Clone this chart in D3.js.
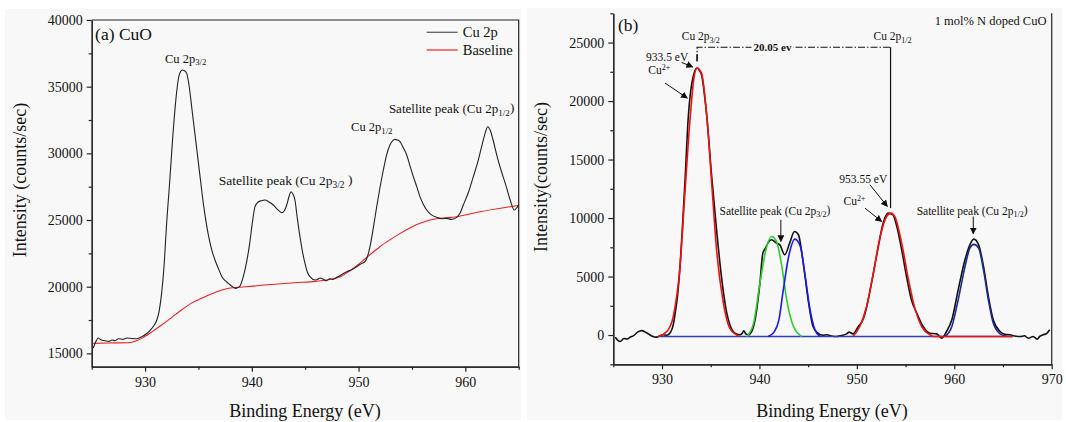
<!DOCTYPE html>
<html>
<head>
<meta charset="utf-8">
<script src="https://cdn.jsdelivr.net/npm/d3@7"></script>
<style>
  body { margin: 0; background: #fff; }
</style>
</head>
<body>
<svg id="chart" width="1066" height="422"></svg>
<script>
// ---- panel (a): CuO survey, [binding energy eV, counts/sec]
const cuoSpectrum = [
  [925.15, 15400], [925.4, 15900], [925.6, 16150], [925.9, 16000], [926.25, 15950], [926.6, 15900],
  [926.9, 16000], [927.2, 15950], [927.5, 16100], [927.9, 16050], [928.3, 16150], [928.75, 16120],
  [929.2, 16100], [929.7, 16250], [930.1, 16450], [930.5, 16750], [930.8, 17050], [931.1, 17500],
  [931.3, 18100], [931.55, 19500], [931.8, 21800], [932.0, 24500], [932.3, 27800], [932.55, 30750],
  [932.8, 33300], [933.1, 35500], [933.3, 36100], [933.5, 36250], [933.7, 36200], [933.9, 36000],
  [934.1, 35200], [934.4, 33250], [934.8, 30600], [935.15, 28250], [935.5, 26000], [935.9, 24000],
  [936.2, 22900], [936.55, 22000], [936.9, 21300], [937.2, 20750], [937.5, 20450], [937.8, 20250],
  [938.1, 20050], [938.5, 19875], [938.85, 20000], [939.2, 20750], [939.5, 21800], [939.8, 23250],
  [940.05, 24800], [940.3, 26000], [940.6, 26350], [940.9, 26450], [941.24, 26500], [941.6, 26350],
  [942.01, 26125], [942.4, 25800], [942.8, 25550], [943.05, 25700], [943.27, 26125], [943.5, 26800],
  [943.67, 27125], [943.85, 26950], [944.04, 26500], [944.25, 25200], [944.51, 23750], [944.75, 22600],
  [944.98, 21750], [945.2, 21100], [945.45, 20750], [945.92, 20500], [946.15, 20550], [946.39, 20650],
  [946.7, 20550], [947.01, 20450], [947.3, 20600], [947.6, 20550], [947.95, 20700], [948.4, 20900],
  [948.89, 21125], [949.3, 21250], [949.82, 21500], [950.2, 21700], [950.6, 21875], [950.85, 22300],
  [951.07, 23000], [951.4, 24500], [951.7, 26000], [952.0, 27400], [952.32, 28750], [952.6, 29800],
  [952.94, 30625], [953.2, 30950], [953.41, 31050], [953.65, 31000], [953.88, 30875], [954.2, 30400],
  [954.51, 29875], [954.8, 29100], [955.13, 28250], [955.45, 27500], [955.75, 26750], [956.05, 26200],
  [956.38, 25750], [956.8, 25400], [957.32, 25200], [957.8, 25100], [958.26, 25125], [958.7, 25050],
  [959.19, 25200], [959.5, 25500], [959.81, 26125], [960.3, 27100], [960.75, 28250], [961.15, 29300],
  [961.53, 30500], [961.85, 31500], [962.1, 32000], [962.35, 31700], [962.6, 31000], [963.0, 29700],
  [963.4, 28600], [963.8, 27600], [964.2, 26500], [964.6, 25750], [964.85, 25950], [965.0, 26100]
];
const cuoBaseline = [
  [925.15, 15750], [926.5, 15780], [928.4, 15800], [929.2, 15950], [929.85, 16200], [930.7, 16650],
  [931.55, 17125], [932.5, 17700], [933.4, 18250], [934.3, 18750], [935.3, 19125], [936.2, 19450],
  [937.2, 19750], [938.0, 19900], [938.6, 19950], [939.5, 20000], [941.2, 20125], [944.0, 20300],
  [946.0, 20400], [947.0, 20500], [948.3, 20750], [949.2, 21200], [950.1, 21750], [951.0, 22350],
  [952.0, 23000], [953.0, 23550], [953.9, 24000], [954.8, 24400], [955.75, 24750], [956.7, 25000],
  [957.6, 25125], [959.2, 25250], [961.4, 25625], [964.2, 26000], [965.0, 26100]
];

// ---- panel (b): 1 mol% N doped CuO, measured curve and fitted components
const dopedSpectrum = [
  [925.2, -180], [925.7, -550], [926.1, -300], [926.4, -350], [926.8, -150], [927.05, -70],
  [927.5, 250], [927.9, 380], [928.3, 250], [928.6, 100], [929.0, -100], [929.45, -180],
  [929.8, -50], [930.1, 20], [930.5, -20], [930.8, 160], [931.1, 700], [931.3, 1580],
  [931.6, 3400], [931.85, 5860], [932.1, 9300], [932.35, 12990], [932.7, 18680], [932.95, 20900],
  [933.2, 22100], [933.6, 22820], [933.85, 22600], [934.1, 22100], [934.35, 20600], [934.6, 18680],
  [935.1, 13550], [935.6, 9000], [936.1, 5000], [936.65, 1870], [937.0, 800], [937.3, 300],
  [937.65, 80], [938.0, 20], [938.2, 120], [938.4, 360], [938.6, 100], [938.85, 20],
  [939.2, 300], [939.55, 1300], [940.05, 4440], [940.35, 7000], [940.6, 7400], [940.9, 7900],
  [941.25, 8140], [941.75, 7860], [942.1, 7710], [942.6, 6860], [943.1, 7860], [943.6, 8850],
  [944.0, 8570], [944.5, 6150], [945.0, 3010], [945.5, 730], [946.0, 160], [946.5, -20],
  [946.9, 20], [947.4, -80], [947.9, -130], [948.4, -40], [948.95, 100], [949.2, 250],
  [949.6, 100], [950.15, 730], [950.5, 1100], [950.85, 1870], [951.5, 4440], [952.2, 7570],
  [952.7, 9570], [953.2, 10420], [953.7, 10280], [954.1, 9280], [954.6, 7290], [955.1, 5000],
  [955.6, 3010], [956.15, 1870], [956.8, 730], [957.5, 160], [958.2, 100], [958.7, -270],
  [959.2, 300], [959.75, 1300], [960.4, 3860], [961.1, 6430], [961.6, 7710], [962.0, 8200],
  [962.5, 7710], [963.0, 5860], [963.5, 3290], [964.0, 1300], [964.7, 300], [965.2, 60],
  [965.7, 20], [966.2, -80], [966.75, -130], [967.2, -60], [967.6, -270], [968.1, -120],
  [968.5, -350], [968.8, -100], [969.1, 20], [969.5, 150], [969.8, 450]
];
const fitCu2pA = [
  [929.6, -120], [930.5, 300], [931.15, 1580], [931.85, 5860], [932.35, 12130], [932.9, 18680],
  [933.3, 22100], [933.6, 22820], [934.05, 22390], [934.6, 18680], [935.1, 12990], [935.6, 7290],
  [936.3, 2730], [936.95, 590], [937.65, 20], [937.9, -120]
];
const fitCu2pB = [
  [949.6, -120], [950.3, 730], [951.0, 2440], [951.7, 5290], [952.4, 8420], [953.05, 10130],
  [953.5, 10420], [953.9, 10130], [954.6, 7860], [955.3, 4720], [956.0, 2150], [956.65, 730],
  [957.5, 20], [957.9, -120], [966.0, -120]
];
const fitSatA1 = [
  [938.7, -120], [939.4, 1020], [940.05, 4440], [940.75, 7570], [941.25, 8420], [941.75, 8000],
  [942.3, 5860], [942.8, 3010], [943.5, 730], [944.35, -120]
];
const fitSatA2 = [
  [940.9, -120], [941.5, 250], [942.0, 1300], [942.45, 3860], [943.0, 6710], [943.65, 8200],
  [944.2, 7570], [944.7, 5000], [945.2, 2150], [945.7, 440], [946.2, -120]
];
const fitSatB = [
  [959.05, -120], [959.75, 730], [960.4, 3010], [961.1, 5860], [961.6, 7430], [962.0, 7750],
  [962.5, 7430], [963.0, 5570], [963.5, 3010], [964.0, 1020], [964.7, 100], [965.4, -120]
];
const fitBaseline = [[929.6, -120], [966.0, -120]];

// ---- ticks
const xTicksA = [930, 940, 950, 960];
const xMinorA = [925, 935, 945, 955, 965];
const yTicksA = [15000, 20000, 25000, 30000, 35000, 40000];
const yMinorA = [17500, 22500, 27500, 32500, 37500];
const xTicksB = [930, 940, 950, 960, 970];
const xMinorB = [925, 935, 945, 955, 965];
const yTicksB = [0, 5000, 10000, 15000, 20000, 25000];
const yMinorB = [-2500, 2500, 7500, 12500, 17500, 22500, 27500];

const svg = d3.select("#chart");
const panelFill = "#f8f8f8";
const serif = '"Liberation Serif", "Times New Roman", serif';

svg.append("rect").attr("width", 1066).attr("height", 422).attr("fill", "#fff");
svg.append("rect").attr("x", 5).attr("y", 9).attr("width", 516).attr("height", 411).attr("fill", panelFill);
svg.append("rect").attr("x", 527).attr("y", 8).attr("width", 535).attr("height", 412).attr("fill", panelFill);

const defs = svg.append("defs");
defs.append("marker")
  .attr("id", "arrow")
  .attr("viewBox", "0 0 10 10")
  .attr("refX", 9).attr("refY", 5)
  .attr("markerWidth", 7).attr("markerHeight", 7)
  .attr("markerUnits", "userSpaceOnUse")
  .attr("orient", "auto")
  .append("path").attr("d", "M0,0 L10,5 L0,10 Z").attr("fill", "#111");

const fmt = d3.format("d");

function axes(g, x, y, xt, xm, yt, ym) {
  const y0 = y.range()[0];
  const x0 = x.range()[0];
  g.append("g").attr("transform", `translate(0,${y0})`)
    .call(d3.axisBottom(x).tickValues(xm).tickSize(3).tickSizeOuter(0).tickFormat(""));
  g.append("g").attr("transform", `translate(0,${y0})`)
    .call(d3.axisBottom(x).tickValues(xt).tickSize(5).tickSizeOuter(0).tickPadding(5).tickFormat(fmt));
  g.append("g").attr("transform", `translate(${x0},0)`)
    .call(d3.axisLeft(y).tickValues(ym).tickSize(3).tickSizeOuter(0).tickFormat(""));
  g.append("g").attr("transform", `translate(${x0},0)`)
    .call(d3.axisLeft(y).tickValues(yt).tickSize(5).tickSizeOuter(0).tickPadding(4).tickFormat(fmt));
  g.selectAll(".domain, .tick line").attr("stroke", "#222").attr("stroke-width", 1.2);
  g.selectAll(".tick text").attr("font-size", 14).attr("fill", "#111");
}

function sub(t, main, small, up) {
  t.append("tspan").text(main);
  t.append("tspan").attr("font-size", "70%").attr("dy", up ? "-0.45em" : "0.3em").text(small);
}

// ================= panel (a)
const xa = d3.scaleLinear().domain([925, 965]).range([91.7, 518.7]);
const ya = d3.scaleLinear().domain([14000, 40000]).range([366.7, 20]);
const ga = svg.append("g");

const lineA = d3.line().x(d => xa(d[0])).y(d => ya(d[1])).curve(d3.curveMonotoneX);
ga.append("path").datum(cuoBaseline).attr("d", lineA)
  .attr("fill", "none").attr("stroke", "#f01e1e").attr("stroke-width", 1.1);
ga.append("path").datum(cuoSpectrum).attr("d", lineA)
  .attr("fill", "none").attr("stroke", "#222").attr("stroke-width", 1.1);

axes(ga, xa, ya, xTicksA, xMinorA, yTicksA, yMinorA);
// frame top + right
ga.append("path")
  .attr("d", `M${xa(925)},${ya(40000)}H${xa(965)}V${ya(14000)}`)
  .attr("fill", "none").attr("stroke", "#222").attr("stroke-width", 1.2);

ga.append("text").attr("x", xa(925.32)).attr("y", ya(38500)).attr("font-size", 17.5).text("(a) CuO");

// legend
const legendA = [
  { label: "Cu 2p", color: "#555", y: 39080 },
  { label: "Baseline", color: "#f01e1e", y: 37750 }
];
legendA.forEach(d => {
  ga.append("line").attr("x1", xa(956.38)).attr("x2", xa(959.28))
    .attr("y1", ya(d.y)).attr("y2", ya(d.y)).attr("stroke", d.color).attr("stroke-width", 1.2);
  ga.append("text").attr("x", xa(959.76)).attr("y", ya(d.y) + 5).attr("font-size", 14.5).text(d.label);
});

sub(ga.append("text").attr("x", xa(931.86)).attr("y", ya(36810)).attr("font-size", 12.5), "Cu 2p", "3/2");
sub(ga.append("text").attr("x", xa(949.3)).attr("y", ya(31640)).attr("font-size", 12.5), "Cu 2p", "1/2");
{
  const t = ga.append("text").attr("x", xa(936.91)).attr("y", ya(27590)).attr("font-size", 13.5);
  t.append("tspan").text("Satellite peak (Cu 2p");
  t.append("tspan").attr("font-size", "70%").attr("dy", "0.3em").text("3/2");
  t.append("tspan").attr("dy", "-0.3em").text(" )");
}
{
  const t = ga.append("text").attr("x", xa(952.84)).attr("y", ya(33020)).attr("font-size", 13);
  t.append("tspan").text("Satellite peak (Cu 2p");
  t.append("tspan").attr("font-size", "70%").attr("dy", "0.3em").text("1/2");
  t.append("tspan").attr("dy", "-0.3em").text(")");
}

ga.append("text").attr("x", 305).attr("y", 417).attr("text-anchor", "middle")
  .attr("font-size", 18).text("Binding Energy (eV)");
ga.append("text").attr("transform", "translate(26,180) rotate(-90)").attr("text-anchor", "middle")
  .attr("font-size", 18).text("Intensity (counts/sec)");

// ================= panel (b)
const xb = d3.scaleLinear().domain([925, 970]).range([613.3, 1051.7]);
const yb = d3.scaleLinear().domain([-2500, 27500]).range([364.3, 13.3]);
const gb = svg.append("g");
const lineB = d3.line().x(d => xb(d[0])).y(d => yb(d[1])).curve(d3.curveMonotoneX);

const fits = [
  { data: fitBaseline, color: "#2a3fb0" },
  { data: fitSatA1, color: "#2ecc2e" },
  { data: fitSatA2, color: "#1a1ae6" },
  { data: fitSatB, color: "#1c2a8c" },
  { data: fitCu2pA, color: "#ee1111" },
  { data: fitCu2pB, color: "#ee1111" }
];
gb.append("path").datum(dopedSpectrum).attr("d", lineB)
  .attr("fill", "none").attr("stroke", "#111").attr("stroke-width", 1.6);
fits.forEach(f => {
  gb.append("path").datum(f.data).attr("d", lineB)
    .attr("fill", "none").attr("stroke", f.color).attr("stroke-width", 1.6);
});

axes(gb, xb, yb, xTicksB, xMinorB, yTicksB, yMinorB);
gb.append("line").attr("x1", xb(970)).attr("x2", xb(970)).attr("y1", yb(27500)).attr("y2", yb(-2500))
  .attr("stroke", "#222").attr("stroke-width", 1.2);

gb.append("text").attr("x", xb(925.48)).attr("y", yb(26010)).attr("font-size", 17.5).text("(b)");
gb.append("text").attr("x", xb(969.46)).attr("y", yb(26460)).attr("text-anchor", "end")
  .attr("font-size", 12.5).text("1 mol% N doped CuO");

sub(gb.append("text").attr("x", xb(932.03)).attr("y", yb(25180)).attr("font-size", 11.5), "Cu 2p", "3/2");
sub(gb.append("text").attr("x", xb(951.71)).attr("y", yb(25180)).attr("font-size", 11.5), "Cu 2p", "1/2");

// spin-orbit splitting marker
gb.append("path")
  .attr("d", `M${xb(933.6)},${yb(23400)}V${yb(24600)}H${xb(953.46)}`)
  .attr("fill", "none").attr("stroke", "#111").attr("stroke-width", 1.2)
  .attr("stroke-dasharray", "7,2,1.5,2");
gb.append("path")
  .attr("d", `M${xb(953.46)},${yb(24600)}V${yb(10850)}`)
  .attr("fill", "none").attr("stroke", "#111").attr("stroke-width", 1.2);
gb.append("path")
  .attr("d", `M${xb(933.6)},${yb(24000)}V${yb(23400)}`)
  .attr("stroke", "#111").attr("stroke-width", 1.2);
gb.append("rect").attr("x", xb(941.34) - 21).attr("y", yb(24600) - 6).attr("width", 42).attr("height", 12)
  .attr("fill", panelFill);
gb.append("text").attr("x", xb(941.34)).attr("y", yb(24600) + 4).attr("text-anchor", "middle")
  .attr("font-size", 11).attr("font-weight", "bold").text("20.05 ev");

gb.append("text").attr("x", xb(928.36)).attr("y", yb(23440)).attr("font-size", 11.5).text("933.5 eV");
sub(gb.append("text").attr("x", xb(928.6)).attr("y", yb(22330)).attr("font-size", 11.5), "Cu", "2+", true);
gb.append("text").attr("x", xb(948.2)).attr("y", yb(12980)).attr("font-size", 11.5).text("953.55 eV");
sub(gb.append("text").attr("x", xb(948.63)).attr("y", yb(11130)).attr("font-size", 11.5), "Cu", "2+", true);

{
  const t = gb.append("text").attr("x", xb(935.9)).attr("y", yb(10280)).attr("font-size", 11.5);
  t.append("tspan").text("Satellite peak (Cu 2p");
  t.append("tspan").attr("font-size", "70%").attr("dy", "0.3em").text("3/2");
  t.append("tspan").attr("dy", "-0.3em").text(")");
}
{
  const t = gb.append("text").attr("x", xb(956.14)).attr("y", yb(10280)).attr("font-size", 11.5);
  t.append("tspan").text("Satellite peak (Cu 2p");
  t.append("tspan").attr("font-size", "70%").attr("dy", "0.3em").text("1/2");
  t.append("tspan").attr("dy", "-0.3em").text(")");
}

const arrows = [
  [932.02, 23300, 933.15, 22910],
  [930.31, 21540, 932.6, 20250],
  [951.35, 12840, 953.13, 10990],
  [950.83, 10850, 952.55, 9700],
  [942.2, 9850, 942.2, 8000],
  [961.95, 10130, 961.95, 8650]
];
arrows.forEach(a => {
  gb.append("line").attr("x1", xb(a[0])).attr("y1", yb(a[1])).attr("x2", xb(a[2])).attr("y2", yb(a[3]))
    .attr("stroke", "#111").attr("stroke-width", 1).attr("marker-end", "url(#arrow)");
});

gb.append("text").attr("x", 832).attr("y", 417).attr("text-anchor", "middle")
  .attr("font-size", 18).text("Binding Energy (eV)");
gb.append("text").attr("transform", "translate(547,177) rotate(-90)").attr("text-anchor", "middle")
  .attr("font-size", 18).text("Intensity(counts/sec)");

// serif everywhere, inline so it wins over the axis defaults
svg.selectAll("text").style("font-family", serif).style("fill", "#111");
</script>
</body>
</html>
